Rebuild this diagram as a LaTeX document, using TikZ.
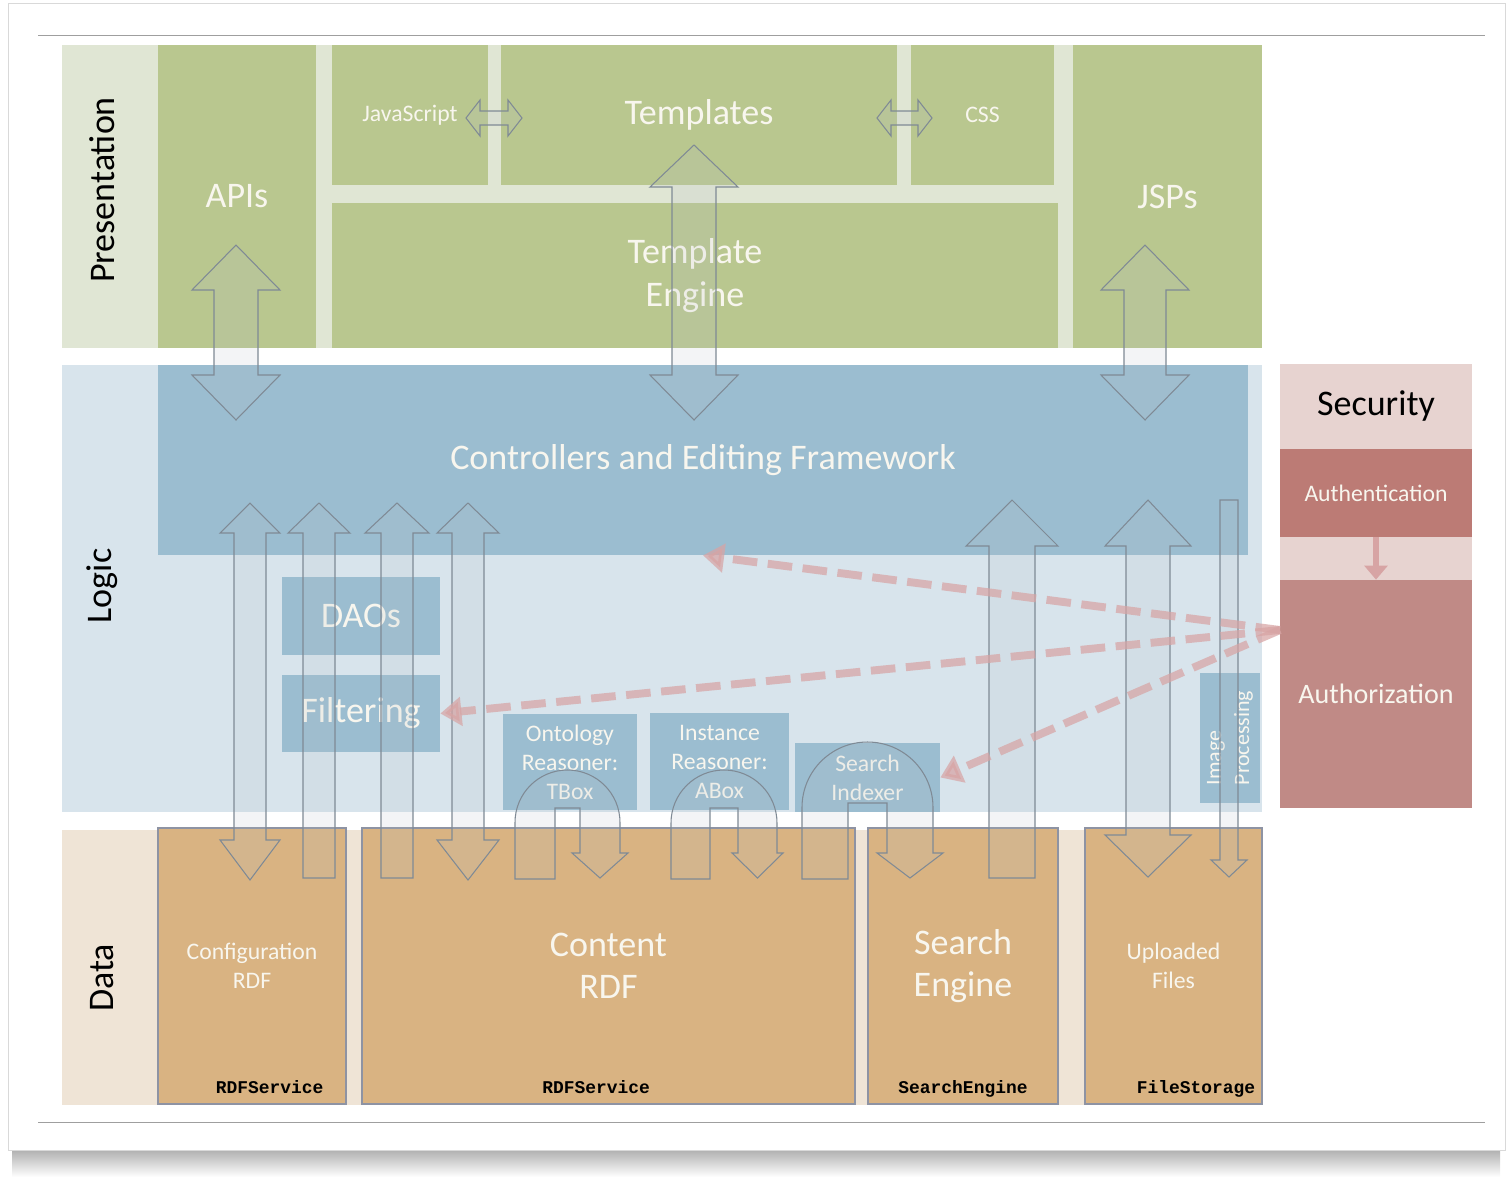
\documentclass[tikz,border=0pt]{standalone}
\usepackage{fontspec}
\setmainfont{Carlito}
\newfontfamily\codefont{Liberation Mono}
\usetikzlibrary{arrows.meta,positioning}

\definecolor{presbg}{HTML}{E0E6D4}
\definecolor{presgreen}{HTML}{B9C78F}
\definecolor{logicbg}{HTML}{D8E4EC}
\definecolor{logicblue}{HTML}{9BBDD0}
\definecolor{databg}{HTML}{EFE4D6}
\definecolor{datatan}{HTML}{D9B382}
\definecolor{databorder}{HTML}{8E93A3}
\definecolor{secbg}{HTML}{E7D3D0}
\definecolor{authncol}{HTML}{BC7B75}
\definecolor{authzcol}{HTML}{C08A86}
\definecolor{permpink}{HTML}{D7A4A4}
\definecolor{arrowline}{HTML}{7F8A95}
\definecolor{arrowfill}{HTML}{B8C0C8}
\definecolor{boxtext}{HTML}{F8F6EE}

\tikzset{
  band/.style={rectangle, inner sep=0pt},
  greenbox/.style={rectangle, inner sep=0pt, fill=presgreen, text=boxtext, align=center},
  bluebox/.style={rectangle, inner sep=0pt, fill=logicblue, text=boxtext, align=center},
  tanbox/.style={rectangle, inner sep=0pt, fill=datatan, draw=databorder, line width=0.6pt, text=boxtext, align=center},
  rosebox/.style={rectangle, inner sep=0pt, text=boxtext, align=center},
  bigtxt/.style={font=\fontsize{20.5}{24}\selectfont},
  smalltxt/.style={font=\fontsize{13.5}{16.5}\selectfont},
  bandlabel/.style={rotate=90, font=\fontsize{20.5}{24}\selectfont, text=black},
  codelbl/.style={inner sep=0pt, font=\codefont\bfseries\fontsize{10.2}{12}\selectfont},
  blockarrow/.style={draw=arrowline, line width=0.6pt, fill=arrowfill, fill opacity=0.16},
  permlink/.style={draw=permpink, line width=4.5pt, dash pattern=on 14pt off 6pt,
    -{Triangle[length=12pt,width=16pt]}, opacity=0.72},
  authflow/.style={draw=permpink, line width=3pt, -{Triangle[length=8pt,width=13pt]}}
}

% box from corners: name, style, x1, y1, x2, y2, text
\newcommand\layerbox[7]{%
  \node[#2, minimum width={(#5-#3)*0.02cm}, minimum height={(#6-#4)*0.02cm}]
    (#1) at ({(#3+#5)/2},{(#4+#6)/2}) {#7};}

% x, top tip, bottom tip, head half, shaft half, top head length, bottom head length
\newcommand\dblvarrow[7]{%
  \draw[blockarrow] (#1,#2) -- ({#1+#4},{#2+#6}) -- ({#1+#5},{#2+#6})
    -- ({#1+#5},{#3-#7}) -- ({#1+#4},{#3-#7}) -- (#1,#3) -- ({#1-#4},{#3-#7})
    -- ({#1-#5},{#3-#7}) -- ({#1-#5},{#2+#6}) -- ({#1-#4},{#2+#6}) -- cycle;}

% x, top tip, flat bottom, head half, shaft half, head length
\newcommand\upvarrow[6]{%
  \draw[blockarrow] (#1,#2) -- ({#1+#4},{#2+#6}) -- ({#1+#5},{#2+#6})
    -- ({#1+#5},#3) -- ({#1-#5},#3) -- ({#1-#5},{#2+#6}) -- ({#1-#4},{#2+#6}) -- cycle;}

% x, flat top, bottom tip, head half, shaft half, head length
\newcommand\downvarrow[6]{%
  \draw[blockarrow] ({#1-#5},#2) -- ({#1+#5},#2) -- ({#1+#5},{#3-#6})
    -- ({#1+#4},{#3-#6}) -- (#1,#3) -- ({#1-#4},{#3-#6}) -- ({#1-#5},{#3-#6}) -- cycle;}

% left tip, right tip, y, head half, shaft half, head length
\newcommand\dblharrow[6]{%
  \draw[blockarrow] (#1,#3) -- ({#1+#6},{#3-#4}) -- ({#1+#6},{#3-#5})
    -- ({#2-#6},{#3-#5}) -- ({#2-#6},{#3-#4}) -- (#2,#3) -- ({#2-#6},{#3+#4})
    -- ({#2-#6},{#3+#5}) -- ({#1+#6},{#3+#5}) -- ({#1+#6},{#3+#4}) -- cycle;}

% outer left, outer right, leg width, arch top, inner top, head extend
\newcommand\uturnarrow[6]{%
  \pgfmathsetmacro\ur{(#2-#1)/2}%
  \pgfmathsetmacro\uc{(#1+#2)/2}%
  \draw[blockarrow] (#1,879) -- (#1,{#4+\ur})
    .. controls (#1,{#4+0.4477*\ur}) and ({\uc-0.5523*\ur},#4) .. (\uc,#4)
    .. controls ({\uc+0.5523*\ur},#4) and (#2,{#4+0.4477*\ur}) .. (#2,{#4+\ur})
    -- (#2,853) -- ({#2+#6},853) -- ({#2-#3/2},878) -- ({#2-#3-#6},853)
    -- ({#2-#3},853) -- ({#2-#3},#5) -- ({#1+#3},#5) -- ({#1+#3},879) -- cycle;}

\begin{document}
\begin{tikzpicture}[x=0.02cm, y=-0.02cm]
  \useasboundingbox (0,0) rectangle (1512,1178);

  % page card
  \shade[top color=gray!85, bottom color=white] (12,1140) rectangle (1500,1177);
  \draw[gray!30, fill=white] (8,3) rectangle (1505,1150);
  \draw[gray!75, line width=0.5pt] (38,35) -- (1485,35);
  \draw[gray!75, line width=0.5pt] (38,1122) -- (1485,1122);

  % layers
  \layerbox{presband}{band, fill=presbg}{62}{45}{1262}{348}{}
  \layerbox{logicband}{band, fill=logicbg}{62}{365}{1262}{812}{}
  \layerbox{databand}{band, fill=databg}{62}{830}{1262}{1105}{}
  \layerbox{secband}{band, fill=secbg}{1280}{364}{1472}{808}{}

  \node[bandlabel] (lblpres) at (102,190) {Presentation};
  \node[bandlabel] (lbllogic) at (102,586) {Logic};
  \node[bandlabel] (lbldata) at (102,978) {Data};

  % presentation
  \layerbox{apis}{greenbox, bigtxt}{158}{45}{316}{348}{APIs}
  \layerbox{js}{greenbox, smalltxt}{332}{45}{488}{185}{JavaScript}
  \layerbox{tmpl}{greenbox, bigtxt}{501}{45}{897}{185}{Templates}
  \layerbox{css}{greenbox, smalltxt}{911}{45}{1054}{185}{CSS}
  \layerbox{tengine}{greenbox, bigtxt}{332}{203}{1058}{348}{Template\\Engine}
  \layerbox{jsps}{greenbox, bigtxt}{1073}{45}{1262}{348}{JSPs}

  % logic
  \layerbox{ctrl}{bluebox, bigtxt}{158}{365}{1248}{555}{Controllers and Editing Framework}
  \layerbox{daos}{bluebox, bigtxt}{282}{577}{440}{655}{DAOs}
  \layerbox{filt}{bluebox, bigtxt}{282}{675}{440}{752}{Filtering}
  \layerbox{tbox}{bluebox, smalltxt}{503}{714}{637}{810}{Ontology\\Reasoner:\\TBox}
  \layerbox{abox}{bluebox, smalltxt}{650}{713}{789}{810}{Instance\\Reasoner:\\ABox}
  \layerbox{idx}{bluebox, smalltxt}{795}{743}{940}{812}{Search\\Indexer}
  \node[bluebox, rotate=90, align=left, minimum width=130*0.02cm, minimum height=60*0.02cm,
    font=\fontsize{12.5}{16}\selectfont] (imgproc) at (1230,738) {Image\\Processing};

  % security
  \node[font=\fontsize{20.5}{24}\selectfont] (seclbl) at (1376,406) {Security};
  \layerbox{authn}{rosebox, fill=authncol, smalltxt}{1280}{449}{1472}{537}{Authentication}
  \layerbox{authz}{rosebox, fill=authzcol, font=\fontsize{16}{19}\selectfont}{1280}{580}{1472}{808}{Authorization}
  \draw[authflow] (authn.south) -- (authz.north);

  % data
  \layerbox{cfg}{tanbox, smalltxt}{158}{828}{346}{1104}{Configuration\\RDF}
  \layerbox{cnt}{tanbox, bigtxt}{362}{828}{855}{1104}{Content\\RDF}
  \layerbox{srch}{tanbox, bigtxt}{868}{828}{1058}{1104}{Search\\Engine}
  \layerbox{upl}{tanbox, smalltxt}{1085}{828}{1262}{1104}{Uploaded\\Files}
  \node[codelbl, above left=6pt and 13pt of cfg.south east] (cfgsvc) {RDFService};
  \node[codelbl, above=6pt of cnt.south, xshift=-7pt] (cntsvc) {RDFService};
  \node[codelbl, above=4pt of srch.south] (srchsvc) {SearchEngine};
  \node[codelbl, above left=4pt and 4pt of upl.south east] (uplsvc) {FileStorage};

  % presentation <-> logic
  \dblvarrow{236}{245}{420}{44}{22}{45}{45}
  \dblvarrow{694}{145}{420}{44}{22}{42}{45}
  \dblvarrow{1145}{245}{420}{44}{21}{45}{45}
  \dblharrow{466}{522}{118}{18}{7}{14}
  \dblharrow{877}{932}{118}{18}{7}{14}

  % logic <-> data
  \dblvarrow{250}{503}{880}{30}{16}{30}{40}
  \upvarrow{319}{503}{878}{31}{16}{30}
  \upvarrow{397}{503}{878}{32}{16}{30}
  \dblvarrow{468}{503}{880}{31}{16}{30}{40}
  \uturnarrow{515}{620}{40}{770}{808}{8}
  \uturnarrow{671}{777}{39}{770}{808}{6}
  \uturnarrow{802}{933}{46}{742}{803}{10}
  \upvarrow{1012}{500}{878}{46}{23}{46}
  \dblvarrow{1148}{500}{877}{43}{22}{46}{42}
  \downvarrow{1229}{500}{877}{18}{9}{17}

  % authorization checks
  \coordinate (authin) at (1280,630);
  \draw[permlink] (authin) -- (ctrl.south);
  \draw[permlink] (authin) -- (filt.east);
  \draw[permlink] (authin) -- (idx.east);
\end{tikzpicture}
\end{document}
